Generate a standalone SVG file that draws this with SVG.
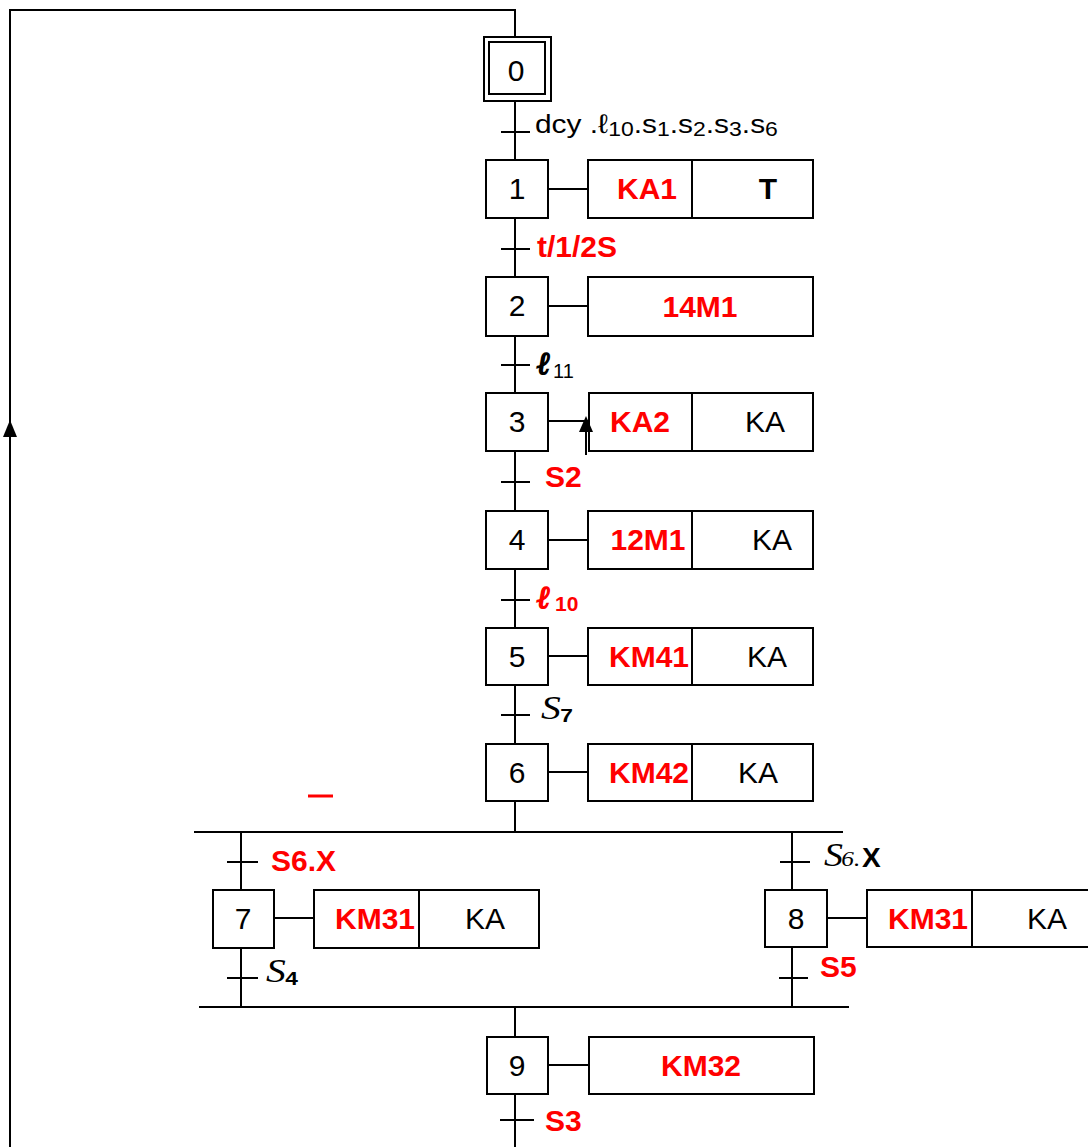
<svg xmlns="http://www.w3.org/2000/svg" width="1088" height="1147" viewBox="0 0 1088 1147">
<defs>
<style>
.ln{stroke:#000;stroke-width:2;fill:none}
.bx{stroke:#000;stroke-width:2;fill:#fff}
.num{font-family:"Liberation Sans",Arial,sans-serif;font-size:30px;fill:#000;text-anchor:middle}
.act{font-family:"Liberation Sans",Arial,sans-serif;font-size:30px;font-weight:bold;fill:#f00;text-anchor:middle}
.actk{font-family:"Liberation Sans",Arial,sans-serif;font-size:30px;fill:#000;text-anchor:middle}
.red{font-family:"Liberation Sans",Arial,sans-serif;font-size:30px;font-weight:bold;fill:#f00}
.blk{font-family:"Liberation Sans",Arial,sans-serif;font-size:26px;fill:#000}
.ser{font-family:"Liberation Serif","Times New Roman",serif;font-style:italic;font-size:33px;fill:#000}
.sub{font-family:"Liberation Sans",Arial,sans-serif;font-weight:bold;font-size:19px;fill:#000}
.ell{font-family:"DejaVu Serif",serif;font-style:italic;font-weight:bold;font-size:31px;stroke-width:1.6}
</style>
</defs>
<rect width="1088" height="1147" fill="#fff"/>
<g id="connectors">
<polyline class="ln" points="515,37 515,10 10,10 10,1147"/>
<polygon points="10,420 3,437 17,437" fill="#000"/>
<line class="ln" x1="515" y1="101" x2="515" y2="160"/>
<line class="ln" x1="501" y1="132" x2="530" y2="132"/>
<line class="ln" x1="515" y1="218" x2="515" y2="277"/>
<line class="ln" x1="501" y1="249" x2="530" y2="249"/>
<line class="ln" x1="515" y1="336" x2="515" y2="393"/>
<line class="ln" x1="501" y1="365" x2="530" y2="365"/>
<line class="ln" x1="515" y1="451" x2="515" y2="511"/>
<line class="ln" x1="501" y1="482" x2="530" y2="482"/>
<line class="ln" x1="515" y1="569" x2="515" y2="628"/>
<line class="ln" x1="501" y1="600" x2="530" y2="600"/>
<line class="ln" x1="515" y1="685" x2="515" y2="744"/>
<line class="ln" x1="501" y1="715" x2="530" y2="715"/>
<line class="ln" x1="515" y1="801" x2="515" y2="832"/>
<line class="ln" x1="194" y1="832" x2="843" y2="832"/>
<line class="ln" x1="241" y1="832" x2="241" y2="890"/>
<line class="ln" x1="227" y1="862" x2="258" y2="862"/>
<line class="ln" x1="241" y1="948" x2="241" y2="1007"/>
<line class="ln" x1="227" y1="978" x2="258" y2="978"/>
<line class="ln" x1="792" y1="832" x2="792" y2="890"/>
<line class="ln" x1="780" y1="862" x2="810" y2="862"/>
<line class="ln" x1="792" y1="947" x2="792" y2="1007"/>
<line class="ln" x1="779" y1="978" x2="808" y2="978"/>
<line class="ln" x1="199" y1="1007" x2="849" y2="1007"/>
<line class="ln" x1="515" y1="1007" x2="515" y2="1037"/>
<line class="ln" x1="515" y1="1094" x2="515" y2="1147"/>
<line class="ln" x1="500" y1="1120" x2="534" y2="1120"/>
<line stroke="#f00" stroke-width="3" x1="308" y1="796" x2="333" y2="796"/>
</g>
<g id="step0">
<rect class="bx" x="484" y="37" width="67" height="64"/>
<rect class="bx" x="489" y="42" width="56" height="52"/>
<text class="num" x="516" y="81">0</text>
</g>
<g id="t0"><text class="blk" transform="translate(535,133) scale(1.15,1)">dcy .<tspan font-size="27">ℓ</tspan><tspan font-size="20" dy="3">10</tspan><tspan dy="-3">.s</tspan><tspan font-size="20" dy="3">1</tspan><tspan dy="-3">.s</tspan><tspan font-size="20" dy="3">2</tspan><tspan dy="-3">.s</tspan><tspan font-size="20" dy="3">3</tspan><tspan dy="-3">.s</tspan><tspan font-size="20" dy="3">6</tspan></text></g>
<g id="step1">
<rect class="bx" x="486" y="160" width="62" height="58"/>
<text class="num" x="517" y="199">1</text>
<line class="ln" x1="548" y1="189" x2="588" y2="189"/>
<rect class="bx" x="588" y="160" width="225" height="58"/>
<line class="ln" x1="692" y1="160" x2="692" y2="218"/>
<text class="act" x="647" y="199">KA1</text>
<text class="actk" x="768" y="199" font-weight="bold">T</text>
</g>
<g id="t1"><text class="red" x="537" y="257">t/1/2S</text></g>
<g id="step2">
<rect class="bx" x="486" y="277" width="62" height="59"/>
<text class="num" x="517" y="316">2</text>
<line class="ln" x1="548" y1="306" x2="588" y2="306"/>
<rect class="bx" x="588" y="277" width="225" height="59"/>
<text class="act" x="700" y="317">14M1</text>
</g>
<g id="t2"><text class="ell" x="537" y="374" fill="#000" stroke="#000">ℓ</text><text x="553" y="378" style="font-family:'Liberation Sans',sans-serif;font-size:20px">11</text></g>
<g id="step3">
<rect class="bx" x="486" y="393" width="62" height="58"/>
<text class="num" x="517" y="432">3</text>
<line class="ln" x1="548" y1="421" x2="589" y2="421"/>
<rect class="bx" x="589" y="393" width="224" height="58"/>
<line class="ln" x1="692" y1="393" x2="692" y2="451"/>
<text class="act" x="640" y="432">KA2</text>
<text class="actk" x="765" y="432">KA</text>
<line class="ln" x1="586" y1="425" x2="586" y2="455"/>
<polygon points="586,416 579,432 593,432" fill="#000"/>
</g>
<g id="t3"><text class="red" x="545" y="487">S2</text></g>
<g id="step4">
<rect class="bx" x="486" y="511" width="62" height="58"/>
<text class="num" x="517" y="550">4</text>
<line class="ln" x1="548" y1="540" x2="588" y2="540"/>
<rect class="bx" x="588" y="511" width="225" height="58"/>
<line class="ln" x1="692" y1="511" x2="692" y2="569"/>
<text class="act" x="648" y="550">12M1</text>
<text class="actk" x="772" y="550">KA</text>
</g>
<g id="t4"><text class="ell" x="537" y="608" fill="#f00" stroke="#f00">ℓ</text><text x="555" y="611" style="font-family:'Liberation Sans',sans-serif;font-weight:bold;font-size:21px;fill:#f00">10</text></g>
<g id="step5">
<rect class="bx" x="486" y="628" width="62" height="57"/>
<text class="num" x="517" y="667">5</text>
<line class="ln" x1="548" y1="656" x2="588" y2="656"/>
<rect class="bx" x="588" y="628" width="225" height="57"/>
<line class="ln" x1="692" y1="628" x2="692" y2="685"/>
<text class="act" x="649" y="667">KM41</text>
<text class="actk" x="767" y="667">KA</text>
</g>
<g id="t5" transform="translate(541,719) scale(1.2,1)"><text class="ser" x="0" y="0">S</text><text class="sub" x="16" y="3">7</text></g>
<g id="step6">
<rect class="bx" x="486" y="744" width="62" height="57"/>
<text class="num" x="517" y="783">6</text>
<line class="ln" x1="548" y1="772" x2="588" y2="772"/>
<rect class="bx" x="588" y="744" width="225" height="57"/>
<line class="ln" x1="692" y1="744" x2="692" y2="801"/>
<text class="act" x="649" y="783">KM42</text>
<text class="actk" x="758" y="783">KA</text>
</g>
<g id="t6a"><text class="red" x="271" y="871">S6.X</text></g>
<g id="step7">
<rect class="bx" x="213" y="890" width="61" height="58"/>
<text class="num" x="243" y="929">7</text>
<line class="ln" x1="274" y1="918" x2="314" y2="918"/>
<rect class="bx" x="314" y="890" width="225" height="58"/>
<line class="ln" x1="419" y1="890" x2="419" y2="948"/>
<text class="act" x="375" y="929">KM31</text>
<text class="actk" x="485" y="929">KA</text>
</g>
<g id="t7" transform="translate(266,982) scale(1.2,1)"><text class="ser" x="0" y="0">S</text><text class="sub" x="16" y="3">4</text></g>
<g id="t6b"><g transform="translate(824,866) scale(1.15,1)"><text class="ser" x="0" y="0">S</text><text x="15" y="0" style="font-family:'Liberation Serif',serif;font-style:italic;font-size:22px">6.</text></g><text x="862" y="867" style="font-family:'Liberation Sans',sans-serif;font-weight:bold;font-size:28px">X</text></g>
<g id="step8">
<rect class="bx" x="765" y="890" width="62" height="57"/>
<text class="num" x="796" y="929">8</text>
<line class="ln" x1="827" y1="918" x2="867" y2="918"/>
<rect class="bx" x="867" y="890" width="230" height="57"/>
<line class="ln" x1="972" y1="890" x2="972" y2="947"/>
<text class="act" x="928" y="929">KM31</text>
<text class="actk" x="1047" y="929">KA</text>
</g>
<g id="t8"><text class="red" x="820" y="977">S5</text></g>
<g id="step9">
<rect class="bx" x="487" y="1037" width="61" height="57"/>
<text class="num" x="517" y="1076">9</text>
<line class="ln" x1="548" y1="1065" x2="589" y2="1065"/>
<rect class="bx" x="589" y="1037" width="225" height="57"/>
<text class="act" x="701" y="1076">KM32</text>
</g>
<g id="t9"><text class="red" x="545" y="1131">S3</text></g>
</svg>
